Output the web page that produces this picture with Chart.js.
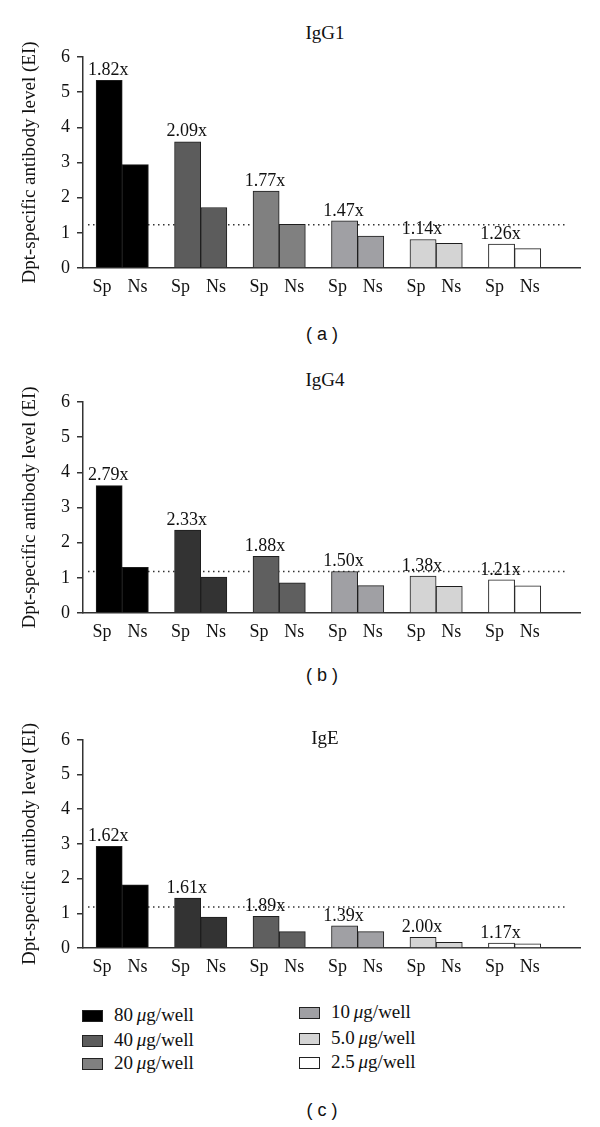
<!DOCTYPE html>
<html>
<head>
<meta charset="utf-8">
<script src="https://cdn.jsdelivr.net/npm/chart.js@4.4.1/dist/chart.umd.min.js"></script>
<style>
  body { margin: 0; background: #fff; }
  #page { position: relative; width: 600px; height: 1127px; font-family: "Liberation Serif", serif; color: #111; }
  canvas { position: absolute; left: 0; }
  .title { position: absolute; left: 225px; width: 200px; text-align: center; font-size: 19px; line-height: 22px; }
  .cap { position: absolute; left: 222px; width: 200px; text-align: center; font-family: "Liberation Sans", sans-serif; font-size: 18px; line-height: 20px; }
  .item { position: absolute; height: 22px; line-height: 22px; font-size: 19px; white-space: nowrap; }
  .sw { display: inline-block; width: 19px; height: 10px; border: 1px solid #222; vertical-align: middle; margin-right: 11px; position: relative; top: -1px; }
</style>
</head>
<body>
<div id="page">
  <div class="title" style="top:22px">IgG1</div>
  <canvas id="chartA" width="600" height="300" style="top:0px"></canvas>
  <div class="cap" style="top:324px">( a )</div>

  <div class="title" style="top:369px">IgG4</div>
  <canvas id="chartB" width="600" height="300" style="top:345px"></canvas>
  <div class="cap" style="top:665px">( b )</div>

  <canvas id="chartC" width="600" height="258" style="top:722px"></canvas>
  <div class="title" style="top:727px">IgE</div>
  <div id="legend"></div>
  <div class="cap" style="top:1100px">( c )</div>
</div>
<script>
// concentrations (µg/well) and the two bars of each group
const groups = ['80', '40', '20', '10', '5.0', '2.5'];
const barLabels = ['Sp', 'Ns'];
const yTicks = [0, 1, 2, 3, 4, 5, 6];

// IgG1
const igg1Sp = [5.34, 3.59, 2.19, 1.34, 0.81, 0.68];
const igg1Ns = [2.94, 1.72, 1.24, 0.91, 0.70, 0.55];
const igg1Fold = ['1.82x', '2.09x', '1.77x', '1.47x', '1.14x', '1.26x'];
const igg1Cutoff = 1.23;

// IgG4
const igg4Sp = [3.62, 2.36, 1.61, 1.18, 1.05, 0.94];
const igg4Ns = [1.30, 1.02, 0.86, 0.78, 0.76, 0.77];
const igg4Fold = ['2.79x', '2.33x', '1.88x', '1.50x', '1.38x', '1.21x'];
const igg4Cutoff = 1.18;

// IgE
const igeSp = [2.93, 1.44, 0.91, 0.64, 0.31, 0.14];
const igeNs = [1.82, 0.89, 0.47, 0.47, 0.16, 0.12];
const igeFold = ['1.62x', '1.61x', '1.89x', '1.39x', '2.00x', '1.17x'];
const igeCutoff = 1.18;

const greysA = ['#000000', '#5c5c5c', '#808080', '#a0a0a4', '#d4d4d4', '#ffffff'];
const greysB = ['#000000', '#333333', '#5f5f5f', '#a0a0a4', '#d4d4d4', '#ffffff'];

const serif = '"Liberation Serif", "Times New Roman", serif';
Chart.defaults.font.family = serif;
Chart.defaults.color = '#111';

// each group takes 3 slots on the x axis: Sp, Ns, gap
const slotsTotal = 19;
const labelNudge = [-0.27, 0.08];

const extras = {
    id: 'extras',
    beforeDatasetsDraw(chart, args, opts) {
        const { ctx, chartArea, scales } = chart;
        const y = scales.y.getPixelForValue(opts.cutoff);
        ctx.save();
        ctx.strokeStyle = '#333';
        ctx.lineWidth = 1.5;
        ctx.setLineDash([1.5, 3.5]);
        ctx.beginPath();
        ctx.moveTo(chartArea.left + 5, y);
        ctx.lineTo(chartArea.right - 12, y);
        ctx.stroke();
        ctx.restore();
    },
    afterDatasetsDraw(chart, args, opts) {
        const { ctx } = chart;
        const bars = chart.getDatasetMeta(0).data;
        ctx.save();
        ctx.font = '18px ' + serif;
        ctx.fillStyle = '#111';
        ctx.textAlign = 'center';
        ctx.textBaseline = 'bottom';
        opts.fold.forEach((t, g) => {
            const b = bars[2 * g];
            ctx.fillText(t, b.x - 1, b.y - 1);
        });
        ctx.restore();
    }
};

function makePanel(id, sp, ns, fold, cutoff, greys, padTop) {
    const points = [];
    const colors = [];
    const tickPos = [];
    groups.forEach((g, i) => {
        points.push({ x: 1 + 3 * i, y: sp[i] });
        points.push({ x: 2 + 3 * i, y: ns[i] });
        colors.push(greys[i], greys[i]);
        tickPos.push(1 + 3 * i + labelNudge[0], 2 + 3 * i + labelNudge[1]);
    });

    return new Chart(document.getElementById(id), {
        type: 'bar',
        data: {
            datasets: [{
                data: points,
                backgroundColor: colors,
                borderColor: '#1e1e1e',
                borderWidth: 1,
                barPercentage: 1,
                categoryPercentage: 1
            }]
        },
        options: {
            responsive: false,
            animation: false,
            events: [],
            layout: { padding: { top: padTop, right: 20, left: 0, bottom: 0 } },
            plugins: {
                legend: { display: false },
                tooltip: { enabled: false },
                extras: { cutoff: cutoff, fold: fold }
            },
            scales: {
                x: {
                    type: 'linear',
                    min: 0,
                    max: slotsTotal,
                    offset: false,
                    z: 1,
                    grid: { display: true, drawOnChartArea: false, drawTicks: false, offset: false },
                    border: { display: true, color: '#333', width: 1.5 },
                    afterBuildTicks: (scale) => { scale.ticks = tickPos.map((v) => ({ value: v })); },
                    ticks: {
                        callback: (v, i) => barLabels[i % 2],
                        font: { size: 18 },
                        color: '#111',
                        padding: 8,
                        autoSkip: false,
                        maxRotation: 0
                    },
                    afterFit: (scale) => { scale.height = 32; }
                },
                y: {
                    min: 0,
                    max: 6,
                    afterBuildTicks: (scale) => { scale.ticks = yTicks.map((v) => ({ value: v })); },
                    grid: { display: true, drawOnChartArea: false, drawTicks: true, tickLength: 6, color: '#333', lineWidth: 1.5 },
                    border: { display: true, color: '#333', width: 1.5 },
                    ticks: { font: { size: 18 }, color: '#111', padding: 7 },
                    title: {
                        display: true,
                        text: 'Dpt-specific antibody level (EI)',
                        font: { size: 19 },
                        color: '#111',
                        padding: { top: 19, bottom: 0 }
                    },
                    afterFit: (scale) => { scale.width = 83; }
                }
            }
        },
        plugins: [extras]
    });
}

makePanel('chartA', igg1Sp, igg1Ns, igg1Fold, igg1Cutoff, greysA, 57);
makePanel('chartB', igg4Sp, igg4Ns, igg4Fold, igg4Cutoff, greysB, 57);
makePanel('chartC', igeSp, igeNs, igeFold, igeCutoff, greysB, 15);

// legend: two columns of three
const legendCols = [82, 299];
const legendRows = [[1015, 1040, 1063], [1012, 1038, 1062]];
const legend = document.getElementById('legend');
groups.forEach((g, i) => {
    const col = Math.floor(i / 3), row = i % 3;
    const item = document.createElement('div');
    item.className = 'item';
    item.style.left = legendCols[col] + 'px';
    item.style.top = (legendRows[col][row] - 11) + 'px';
    item.innerHTML = '<span class="sw" style="background:' + greysA[i] + '"></span>' + g + '\u2009<i>\u03bc</i>g/well';
    legend.appendChild(item);
});
</script>
</body>
</html>
